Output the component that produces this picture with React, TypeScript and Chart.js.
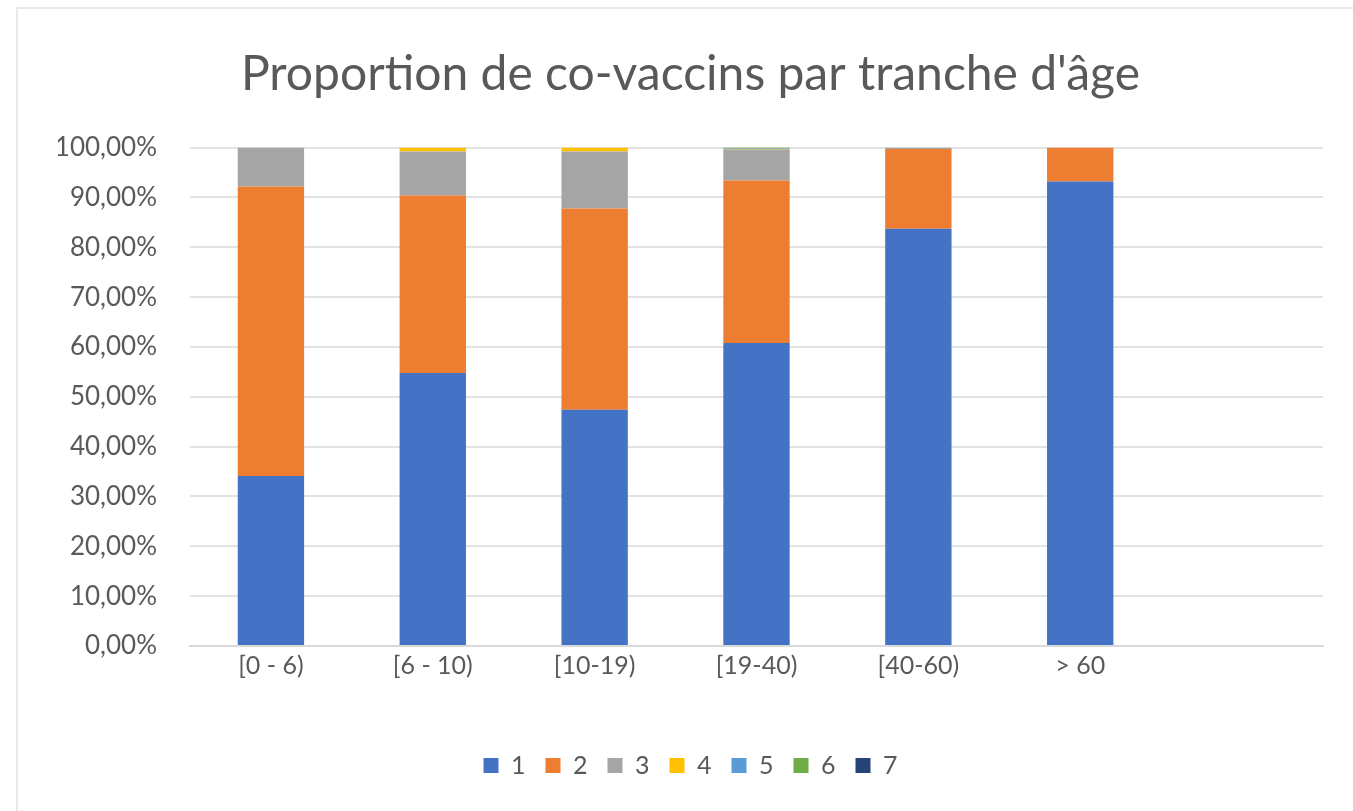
import React, { useEffect, useRef } from "react";
import { Chart, registerables } from "chart.js";

Chart.register(...registerables);

const categories = ["[0 - 6)", "[6 - 10)", "[10-19)", "[19-40)", "[40-60)", "> 60", ""];
const seriesNames = ["1", "2", "3", "4", "5", "6", "7"];
const s1 = [34.1, 54.8, 47.4, 60.8, 83.7, 93.2, null];
const s2 = [58.1, 35.6, 40.4, 32.6, 16.0, 6.8, null];
const s3 = [7.8, 8.8, 11.4, 6.2, 0.3, 0, null];
const s4 = [0, 0.8, 0.8, 0.1, 0, 0, null];
const s5 = [0, 0, 0, 0.1, 0, 0, null];
const s6 = [0, 0, 0, 0.2, 0, 0, null];
const s7 = [0, 0, 0, 0, 0, 0, null];
const colors = ["#4472C4", "#ED7D31", "#A5A5A5", "#FFC000", "#5B9BD5", "#70AD47", "#264478"];

export default function App() {
  const ref = useRef<HTMLCanvasElement>(null);
  useEffect(() => {
    document.body.style.margin = "0";
    const all = [s1, s2, s3, s4, s5, s6, s7];
    const chart = new Chart(ref.current!, {
      type: "bar",
      data: {
        labels: categories,
        datasets: all.map((d, i) => ({
          label: seriesNames[i],
          data: d,
          backgroundColor: colors[i],
          borderWidth: 0,
          categoryPercentage: 0.82,
          barPercentage: 0.5,
        })),
      },
      options: {
        responsive: false,
        animation: false,
        layout: { padding: { left: 58, right: 30, top: 0, bottom: 23 } },
        plugins: {
          title: {
            display: true,
            text: "Proportion de co-vaccins par tranche d'âge",
            color: "#595959",
            font: { family: "Lato", size: 48, weight: "normal", lineHeight: 1.2 },
            padding: { top: 46, bottom: 44 },
          },
          legend: {
            position: "bottom",
            labels: {
              color: "#595959",
              font: { family: "Lato", size: 25 },
              boxWidth: 15,
              boxHeight: 15,
              padding: 20,
            },
          },
          tooltip: { enabled: false },
        },
        scales: {
          x: {
            stacked: true,
            afterFit: (s: any) => { s.height = 87; },
            grid: { display: false },
            border: { color: "#d9d9d9", width: 2 },
            ticks: { color: "#595959", font: { family: "Lato", size: 25 }, padding: -3 },
          },
          y: {
            stacked: true,
            min: 0,
            max: 100,
            afterFit: (s: any) => { s.width = 132; },
            grid: { color: "#e3e3e3", lineWidth: 2, drawTicks: false },
            border: { display: false },
            ticks: {
              stepSize: 10,
              padding: 33,
              color: "#595959",
              font: { family: "Lato", size: 26 },
              callback: (v: any) => Number(v).toFixed(2).replace(".", ",") + "%",
            },
          },
        },
      },
    });
    return () => chart.destroy();
  }, []);
  return (
    <div style={{ position: "relative", width: 1353, height: 811, background: "#fff" }}>
      <div style={{ position: "absolute", left: 16, top: 7, width: 1345, height: 810, border: "2px solid #e8e8e8", boxSizing: "border-box" }} />
      <canvas ref={ref} width={1353} height={811} style={{ position: "absolute", left: 0, top: 0 }} />
    </div>
  );
}
